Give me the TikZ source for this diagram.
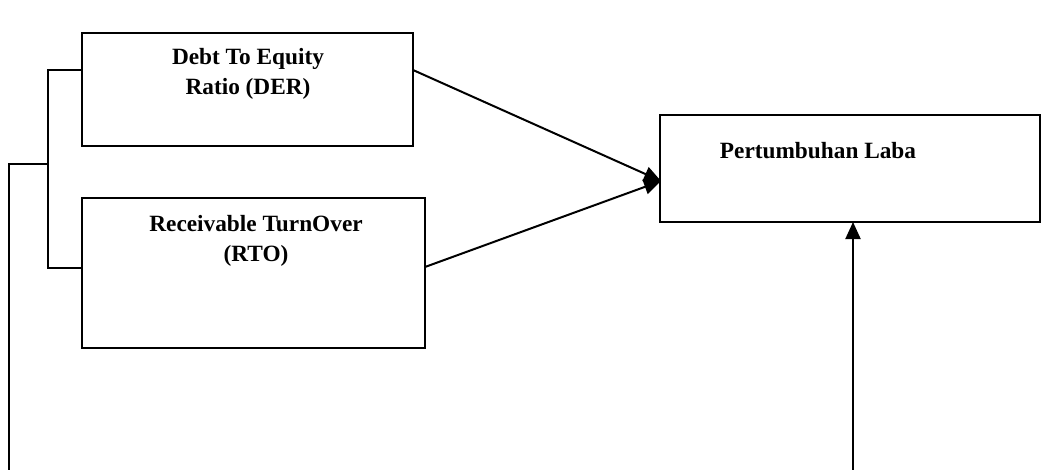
\documentclass[tikz,border=0pt]{standalone}
\usepackage{fontspec}
\setmainfont{Liberation Serif}
\usetikzlibrary{arrows.meta}
\begin{document}
\begin{tikzpicture}[x=1pt,y=-1pt,line width=2pt,
  box/.style={draw,line width=2pt},
  lbl/.style={font=\fontsize{23.3}{30}\selectfont\bfseries,align=center,inner sep=0pt},
  arr/.style={-{Triangle[length=17pt,width=15pt]}}]
\useasboundingbox (0,0) rectangle (1048,470);
\draw[box] (82,33) rectangle (413,146);
\draw[box] (82,198) rectangle (425,348);
\draw[box] (660,115) rectangle (1040,222);
\node[lbl] (der) at (248,74) {Debt To Equity\\Ratio (DER)};
\node[lbl] (rto) at (256,241) {Receivable TurnOver\\(RTO)};
\node[lbl] (pl) at (818,151) {Pertumbuhan Laba};
\coordinate (derR) at (413,70);
\coordinate (rtoR) at (425,267);
\coordinate (plL) at (661,181);
\coordinate (plB) at (853,222);
\coordinate (bot) at (853,470);
\draw[arr] (derR) -- (plL);
\draw[arr] (rtoR) -- (plL);
\draw[arr] (bot) -- (plB);
\coordinate (t1) at (82,70);
\coordinate (t2) at (82,268);
\draw (t1) -- (48,70) -- (48,268) -- (t2);
\draw (48,164) -- (9,164) -- (9,470);
\end{tikzpicture}
\end{document}
